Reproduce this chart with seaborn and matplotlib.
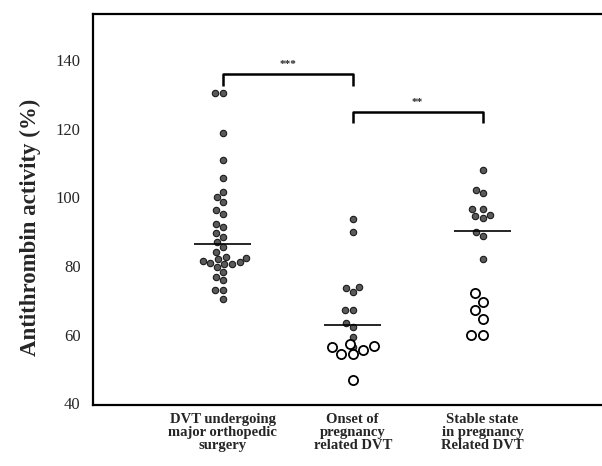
import numpy as np
import pandas as pd
import matplotlib
matplotlib.use("Agg")
import matplotlib.pyplot as plt
import seaborn as sns

categorias = ["DVT undergoing\nmajor orthopedic\nsurgery",
              "Onset of\npregnancy\nrelated DVT",
              "Stable state\nin pregnancy\nRelated DVT"]

# valores (pontos cheios)
ortopedica = [130.5, 130.5, 118.8, 110.8, 105.8, 101.6, 100.1, 98.7, 96.3, 95.1,
              92.4, 91.4, 89.5, 88.5, 87.0, 85.6, 84.1, 82.7, 82.4, 82.0, 81.6,
              81.3, 81.0, 80.7, 80.5, 79.7, 78.3, 76.8, 75.9, 73.0, 73.0, 70.5]
gestacao_inicio = [93.6, 90.0, 73.9, 73.5, 72.5, 67.1, 67.1, 63.4, 62.2, 59.3, 56.5]
gestacao_estavel = [108.1, 102.3, 101.3, 96.5, 96.5, 95.0, 94.5, 94.0, 90.0, 88.7, 82.2]

# pontos abertos
gestacao_inicio_abertos = [57.4, 56.6, 56.4, 55.5, 54.3, 54.3, 46.7]
gestacao_estavel_abertos = [72.0, 69.5, 67.1, 64.7, 59.8, 59.8]

medias = [86.4, 62.7, 90.1]

# barras de significância: (grupo a, grupo b, altura, rótulo)
comparacoes = [(0, 1, 135.9, "***"), (1, 2, 124.9, "**")]

cheios = pd.DataFrame({
    "grupo": [categorias[0]] * len(ortopedica) + [categorias[1]] * len(gestacao_inicio)
             + [categorias[2]] * len(gestacao_estavel),
    "valor": ortopedica + gestacao_inicio + gestacao_estavel,
})
abertos = pd.DataFrame({
    "grupo": [categorias[1]] * len(gestacao_inicio_abertos)
             + [categorias[2]] * len(gestacao_estavel_abertos),
    "valor": gestacao_inicio_abertos + gestacao_estavel_abertos,
})

sns.set_style("white")
plt.rcParams["font.family"] = ["Liberation Serif", "DejaVu Serif"]

fig = plt.figure(figsize=(6.02, 4.66), dpi=100)
ax = fig.add_axes([0.1545, 0.131, 0.8455, 0.839])

sns.swarmplot(data=cheios, x="grupo", y="valor", order=categorias, color="#5a5a5a",
              edgecolor="#1a1a1a", linewidth=0.8, size=4.6, ax=ax)
sns.swarmplot(data=abertos, x="grupo", y="valor", order=categorias, color="white",
              edgecolor="black", linewidth=1.3, size=6.6, ax=ax)

pos = np.arange(len(categorias))
ax.hlines(medias, pos - 0.22, pos + 0.22, color="black", linewidth=1.2, zorder=5)

for a, b, h, rotulo in comparacoes:
    ax.plot([a, a, b, b], [h - 3.3, h, h, h - 3.3], color="black", linewidth=1.8,
            solid_capstyle="butt")
    ax.text((a + b) / 2, h + 1.5, rotulo, ha="center", va="bottom", fontsize=8,
            fontweight="bold")

ax.set_xlim(-1, 2.92)
ax.set_ylim(39.5, 153.5)
ax.set_yticks([40, 60, 80, 100, 120, 140])
ax.tick_params(axis="both", length=0)
ax.tick_params(axis="y", labelsize=12, pad=9)
ax.tick_params(axis="x", labelsize=10.5, pad=6)
for lbl in ax.get_xticklabels():
    lbl.set_fontweight("bold")
    lbl.set_linespacing(0.98)
ax.set_xlabel("")
ax.set_ylabel("Antithrombin activity (%)", fontsize=16.5, fontweight="bold")
ax.yaxis.set_label_coords(-0.102, 0.455)

for lado in ["left", "bottom", "top"]:
    ax.spines[lado].set_color("black")
    ax.spines[lado].set_linewidth(1.6)
ax.spines["right"].set_visible(False)

fig.savefig("out.png", dpi=100)
